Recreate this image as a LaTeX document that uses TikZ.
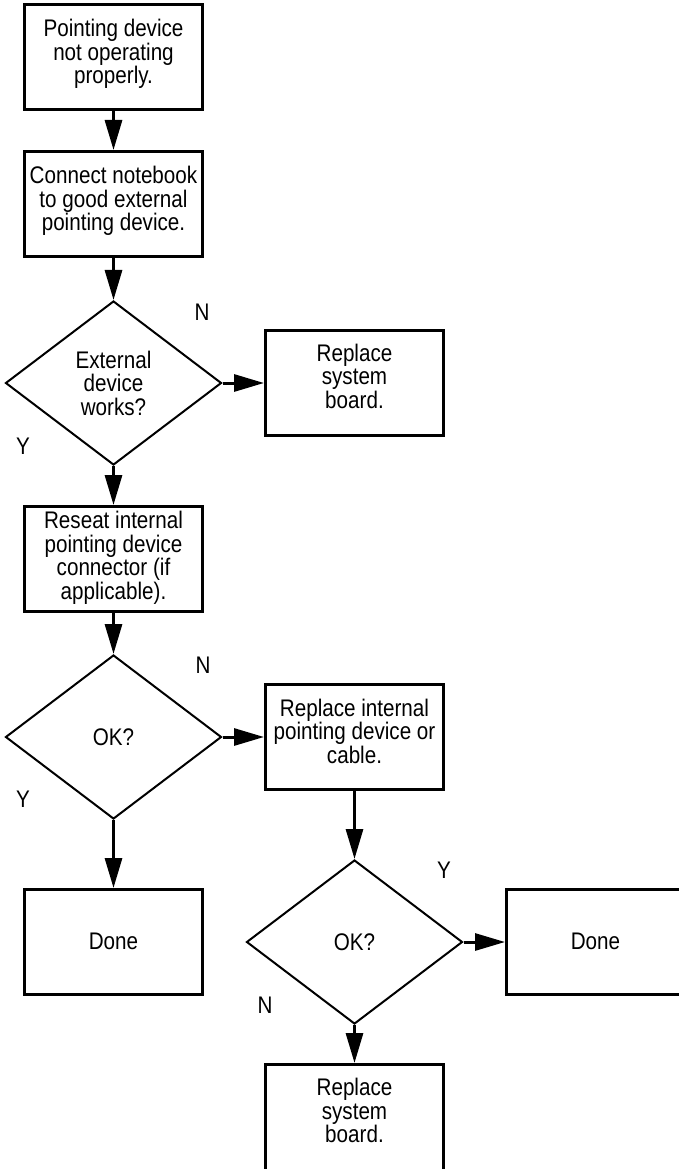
\documentclass[tikz,border=0pt]{standalone}
\usepackage{fontspec}
\setmainfont[FakeStretch=0.86]{Liberation Sans}
\usetikzlibrary{shapes.geometric,arrows.meta}
\tikzset{
  txtfont/.style={font=\fontsize{24}{23.5}\selectfont},
  box/.style={draw, line width=3pt, minimum width=178pt, minimum height=105pt, inner sep=0pt},
  txt/.style={txtfont, align=center, inner sep=0pt, yshift=4pt},
  dia/.style={draw, diamond, line width=2pt, minimum width=216pt, minimum height=164pt, inner sep=0pt, align=center, txtfont},
  lab/.style={txtfont, inner sep=0pt},
  arr/.style={line width=3pt, -{Triangle[length=30pt,width=17pt]}}
}
\begin{document}
\begin{tikzpicture}[x=1pt,y=-1pt]
\useasboundingbox (0,0) rectangle (678,1169);
\node[box, label={[txt, yshift=-1pt]center:{Pointing device\\not operating\\properly.}}] (b1) at (113.5,57) {};
\node[box, label={[txt, yshift=-1pt]center:{Connect notebook\\to good external\\pointing device.}}] (b2) at (113.5,204) {};
\node[dia] (d1) at (113.5,383) {External\\device\\works?};
\node[box, label={[txt, yshift=3pt]center:{Replace\\system\\board.}}] (r1) at (354.5,383) {};
\node[box, label={[txt, yshift=-3pt]center:{Reseat internal\\pointing device\\connector (if\\applicable).}}] (b3) at (113.5,559) {};
\node[dia] (d2) at (113.5,737) {OK?};
\node[box, label={[txt, yshift=2pt]center:{Replace internal\\pointing device or\\cable.}}] (r2) at (354.5,737) {};
\node[box, label={[txt, yshift=-3pt]center:Done}] (done1) at (113.5,942) {};
\node[dia] (d3) at (354.5,942) {OK?};
\node[box, label={[txt, yshift=-3pt]center:Done}] (done2) at (595.5,942) {};
\node[box, minimum height=120pt, label={[txt, yshift=10pt]center:{Replace\\system\\board.}}] (r3) at (354.5,1124.5) {};
\node[lab] (n1) at (202,312) {N};
\node[lab] (y1) at (23,446) {Y};
\node[lab] (n2) at (203,665) {N};
\node[lab] (y2) at (23,799) {Y};
\node[lab] (y3) at (444,870) {Y};
\node[lab] (n3) at (265,1005) {N};
\draw[arr] (b1) -- (b2);
\draw[arr] (b2) -- (d1);
\draw[arr] (d1) -- (r1);
\draw[arr] (d1) -- (b3);
\draw[arr] (b3) -- (d2);
\draw[arr] (d2) -- (r2);
\draw[arr] (d2) -- (done1);
\draw[arr] (r2) -- (d3);
\draw[arr] (d3) -- (done2);
\draw[arr] (d3) -- (r3);
\end{tikzpicture}
\end{document}
